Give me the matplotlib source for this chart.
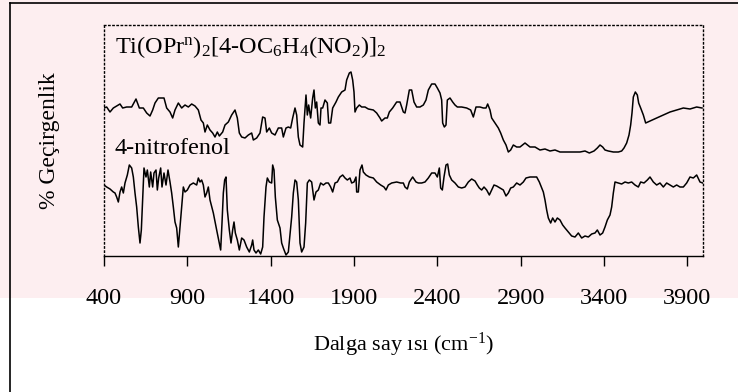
import matplotlib
matplotlib.use("Agg")
import matplotlib.pyplot as plt
from matplotlib.lines import Line2D
from matplotlib.patches import Rectangle

plt.rcParams['font.family'] = ['Liberation Serif', 'DejaVu Serif']
plt.rcParams['mathtext.fontset'] = 'custom'
plt.rcParams['mathtext.rm'] = 'Liberation Serif'
plt.rcParams['mathtext.it'] = 'Liberation Serif:italic'

# ---- data (wavenumber cm^-1, relative transmittance, arbitrary units) ----
complex_wn = [400, 416, 436, 456, 476, 496, 512, 536, 566, 592, 612, 636, 656, 676, 692, 706, 726, 746, 760, 776,
              796, 812, 826, 846, 866, 886, 906, 926, 946, 966, 982, 996, 1006, 1020, 1036, 1052, 1066, 1080, 1092, 1112,
              1126, 1146, 1166, 1186, 1200, 1212, 1226, 1246, 1266, 1286, 1296, 1316, 1336, 1352, 1366, 1376, 1392, 1406, 1426, 1446,
              1466, 1476, 1492, 1506, 1520, 1532, 1546, 1556, 1566, 1576, 1592, 1600, 1612, 1620, 1628, 1640, 1652, 1660, 1668, 1676,
              1686, 1696, 1702, 1712, 1726, 1740, 1748, 1760, 1772, 1792, 1806, 1826, 1846, 1856, 1872, 1882, 1892, 1900, 1906, 1916,
              1932, 1946, 1966, 1986, 2016, 2036, 2056, 2066, 2086, 2100, 2112, 2132, 2156, 2176, 2196, 2206, 2216, 2232, 2246, 2260,
              2276, 2296, 2316, 2332, 2346, 2366, 2386, 2400, 2416, 2426, 2432, 2442, 2452, 2460, 2476, 2492, 2506, 2520, 2546, 2576,
              2600, 2616, 2632, 2656, 2676, 2692, 2702, 2716, 2726, 2746, 2766, 2780, 2796, 2812, 2826, 2840, 2856, 2876, 2896, 2926,
              2956, 2986, 3016, 3046, 3076, 3106, 3136, 3166, 3196, 3226, 3256, 3286, 3312, 3340, 3360, 3376, 3392, 3406, 3426, 3456,
              3486, 3506, 3520, 3536, 3550, 3560, 3568, 3576, 3588, 3600, 3608, 3620, 3636, 3650, 3676, 3716, 3756, 3796, 3836, 3876,
              3916, 3956, 3988]
complex_t = [148, 149, 144, 148, 150, 152, 148, 149, 149, 157, 148, 148, 143, 140, 146, 153, 158, 158, 158, 148,
             144, 138, 146, 153, 148, 151, 149, 152, 150, 146, 136, 133, 124, 131, 126, 123, 119, 124, 120, 124,
             131, 134, 141, 146, 138, 123, 119, 118, 121, 123, 116, 118, 123, 139, 138, 124, 128, 123, 121, 128,
             128, 119, 128, 129, 128, 138, 148, 141, 119, 111, 109, 133, 161, 141, 151, 138, 158, 166, 148, 154,
             133, 131, 148, 148, 156, 153, 133, 133, 148, 154, 159, 164, 166, 176, 183, 184, 176, 164, 144, 148,
             151, 149, 149, 147, 146, 143, 138, 135, 138, 138, 144, 148, 154, 154, 144, 143, 151, 166, 166, 154,
             149, 149, 151, 156, 166, 172, 172, 168, 163, 156, 133, 129, 131, 156, 158, 154, 151, 149, 149, 148,
             146, 139, 149, 149, 148, 148, 152, 146, 138, 133, 128, 123, 116, 111, 104, 106, 111, 109, 109, 113,
             109, 109, 106, 107, 105, 106, 104, 104, 104, 104, 104, 105, 103, 105, 108, 111, 109, 106, 105, 104,
             104, 105, 108, 113, 121, 131, 143, 159, 164, 161, 153, 148, 141, 133, 135, 138, 141, 144, 146, 148,
             147, 149, 148]

nitro_wn = [400, 416, 436, 456, 466, 476, 486, 496, 506, 516, 526, 540, 552, 566, 576, 586, 596, 606, 616, 624,
            632, 640, 652, 660, 672, 680, 692, 700, 712, 720, 728, 740, 748, 760, 772, 784, 796, 806, 816, 826,
            836, 846, 856, 866, 876, 886, 900, 916, 936, 956, 966, 976, 986, 996, 1006, 1016, 1026, 1036, 1056, 1076,
            1092, 1100, 1108, 1116, 1124, 1132, 1140, 1152, 1162, 1172, 1180, 1188, 1200, 1212, 1226, 1240, 1256, 1272, 1286, 1292,
            1300, 1312, 1326, 1340, 1352, 1360, 1372, 1380, 1392, 1406, 1412, 1420, 1428, 1440, 1456, 1466, 1476, 1492, 1506, 1516,
            1526, 1536, 1546, 1556, 1566, 1576, 1586, 1600, 1610, 1620, 1632, 1646, 1660, 1672, 1686, 1700, 1716, 1732, 1746, 1760,
            1772, 1786, 1800, 1816, 1832, 1846, 1860, 1876, 1886, 1900, 1912, 1916, 1926, 1936, 1948, 1956, 1972, 1992, 2016, 2036,
            2060, 2080, 2092, 2106, 2126, 2156, 2180, 2196, 2206, 2220, 2232, 2252, 2272, 2286, 2306, 2326, 2346, 2366, 2386, 2400,
            2412, 2420, 2430, 2440, 2452, 2462, 2472, 2486, 2506, 2526, 2546, 2566, 2586, 2606, 2626, 2640, 2652, 2666, 2680, 2696,
            2712, 2726, 2740, 2756, 2776, 2796, 2812, 2826, 2840, 2856, 2876, 2896, 2916, 2932, 2956, 2976, 2996, 3012, 3026, 3036,
            3046, 3056, 3066, 3080, 3092, 3106, 3120, 3136, 3152, 3166, 3186, 3206, 3226, 3246, 3266, 3286, 3306, 3326, 3346, 3360,
            3376, 3392, 3406, 3420, 3436, 3446, 3456, 3466, 3486, 3506, 3526, 3546, 3566, 3586, 3606, 3620, 3640, 3660, 3676, 3696,
            3716, 3736, 3756, 3776, 3796, 3816, 3836, 3856, 3876, 3896, 3916, 3936, 3956, 3976, 3992]
nitro_t = [71, 69, 67, 64, 63, 59, 54, 64, 69, 63, 73, 81, 91, 88, 79, 63, 49, 29, 13, 26,
           56, 88, 79, 86, 69, 84, 69, 83, 86, 66, 78, 88, 69, 83, 71, 86, 74, 63, 49, 34,
           28, 9, 29, 48, 69, 64, 66, 71, 73, 71, 78, 74, 76, 71, 59, 63, 69, 56, 43, 26,
           13, 6, 33, 63, 76, 79, 46, 26, 13, 26, 34, 23, 16, 6, 18, 16, 9, 4, 11, 16,
           6, 3, 6, 2, 9, 39, 69, 78, 74, 73, 91, 86, 59, 36, 28, 13, 8, 1, 4, 21,
           39, 63, 76, 74, 56, 13, 4, 9, 33, 73, 76, 74, 56, 64, 66, 73, 71, 73, 73, 69,
           64, 73, 74, 79, 81, 78, 76, 78, 73, 74, 79, 64, 64, 86, 91, 84, 81, 79, 78, 74,
           71, 69, 66, 71, 73, 74, 73, 73, 69, 67, 74, 79, 74, 73, 73, 74, 78, 83, 83, 79,
           88, 68, 66, 79, 91, 92, 81, 76, 73, 69, 68, 69, 74, 77, 75, 71, 68, 66, 69, 66,
           61, 66, 71, 70, 68, 66, 60, 63, 68, 69, 73, 71, 74, 78, 79, 79, 79, 74, 68, 64,
           56, 46, 38, 33, 38, 34, 38, 36, 31, 28, 24, 20, 19, 23, 18, 20, 19, 22, 23, 26,
           21, 23, 29, 36, 41, 49, 63, 74, 73, 72, 74, 73, 74, 71, 69, 74, 73, 76, 79, 74,
           71, 73, 69, 73, 71, 69, 71, 69, 69, 73, 79, 78, 81, 74, 73]

tick_values = [400, 900, 1400, 1900, 2400, 2900, 3400, 3900]
label_complex = r'Ti(OPr$^{\mathrm{n}}$)$_2$[4-OC$_6$H$_4$(NO$_2$)]$_2$'
label_nitro = '4-nitrofenol'
xlabel = r'Dalga say ısı (cm$^{\mathrm{-1}}$)'
ylabel = '% Geçirgenlik'

W, H = 738, 392
fig = plt.figure(figsize=(W / 100, H / 100), dpi=100)

# faint pink background tint of the scanned page (decoration)
fig.add_artist(Rectangle((0, 1 - 298 / H), 1, 298 / H, transform=fig.transFigure,
                         facecolor='#fdeef0', edgecolor='none', zorder=0))

ax = fig.add_axes([104 / W, (H - 256) / H, 599 / W, 231 / H])
ax.set_facecolor('none')

ax.plot(complex_wn, complex_t, color='black', lw=1.1)
ax.plot(nitro_wn, nitro_t, color='black', lw=1.1)

ax.set_xlim(400, 3994)
ax.set_ylim(0, 231)
ax.set_xticks(tick_values)
ax.set_xticklabels([str(v) for v in tick_values], fontsize=17.5)
ax.set_yticks([])
ax.tick_params(axis='x', direction='out', length=7, width=1, pad=16)

for s in ['top', 'left', 'right']:
    ax.spines[s].set_linestyle((0, (1, 2)))
    ax.spines[s].set_linewidth(1.0)
ax.spines['bottom'].set_linewidth(1.0)

ax.text(0.018, 0.905, label_complex, transform=ax.transAxes, fontsize=17.5, va='center', ha='left')
ax.text(0.018, 0.467, label_nitro, transform=ax.transAxes, fontsize=17.5, va='center', ha='left')

fig.text(403 / W, 1 - 345 / H, xlabel, fontsize=16, ha='center', va='center')
fig.text(50 / W, 1 - 141 / H, ylabel, fontsize=17, ha='center', va='center', rotation=90)

# outer frame lines
fig.add_artist(Line2D([10 / W, 10 / W], [0, 1 - 3 / H], transform=fig.transFigure, color='black', lw=1.2))
fig.add_artist(Line2D([10 / W, 1], [1 - 3 / H, 1 - 3 / H], transform=fig.transFigure, color='black', lw=1.2))

fig.savefig('out.png', dpi=100)
